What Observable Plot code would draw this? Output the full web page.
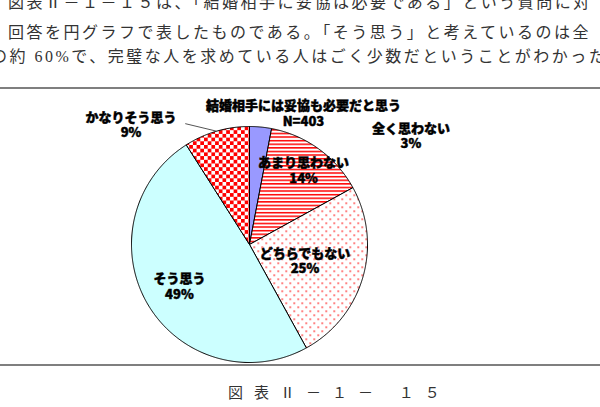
<!DOCTYPE html>
<html><head><meta charset="utf-8">
<script src="https://cdn.jsdelivr.net/npm/d3@7"></script>
<script src="https://cdn.jsdelivr.net/npm/@observablehq/plot@0.6"></script>
<style>
html,body{margin:0;padding:0;background:#fff;width:600px;height:407px;overflow:hidden;}
#page{position:relative;width:600px;height:407px;overflow:hidden;}
.para{position:absolute;white-space:pre;font-family:"Liberation Serif","Noto Sans CJK JP",serif;font-size:16px;line-height:24px;color:#333;letter-spacing:2.5px;}
#chart{position:absolute;left:0;top:87px;width:600px;border-top:2px solid #7f7f7f;border-bottom:2px solid #7f7f7f;}
#chart svg{display:block;overflow:visible;}
#caption{position:absolute;left:228px;top:383px;font-family:"Liberation Serif","Noto Sans CJK JP",serif;font-size:15px;line-height:20px;letter-spacing:11px;white-space:pre;color:#333;}
</style>
</head><body>
<div id="page">
  <div class="para" id="l1" style="left:8px;top:-9px"></div>
  <div class="para" id="l2" style="left:8px;top:21px"></div>
  <div class="para" id="l3" style="left:-9px;top:45px"></div>
  <div id="chart"></div>
  <div id="caption"></div>
</div>
<script>
// ---- data ----
const categories = ["全く思わない", "あまり思わない", "どちらでもない", "そう思う", "かなりそう思う"];
const percents = [3, 14, 25, 49, 9];
const chartTitle = "結婚相手には妥協も必要だと思う";
const sampleNote = "N=403";
const paragraphLines = [
  "図表Ⅱ－１－１５は、「結婚相手に妥協は必要である」という質問に対",
  "回答を円グラフで表したものである。「そう思う」と考えているのは全",
  "の約 60%で、完璧な人を求めている人はごく少数だということがわかった"
];
const figureCaption = "図表Ⅱ－１－ １５";

// ---- text ----
document.getElementById("l1").textContent = paragraphLines[0];
document.getElementById("l2").textContent = paragraphLines[1];
document.getElementById("l3").textContent = paragraphLines[2];
document.getElementById("caption").textContent = figureCaption;

// ---- layout / style ----
const fills = {
  "全く思わない": "#9999ff",
  "あまり思わない": "url(#stripes)",
  "どちらでもない": "url(#dots)",
  "そう思う": "#ccffff",
  "かなりそう思う": "url(#checker)"
};
const labelLayout = {
  "全く思わない": {angle: 56, r: 1.65},
  "あまり思わない": {r: 0.78},
  "どちらでもない": {r: 0.49},
  "そう思う": {r: 0.69},
  "かなりそう思う": {angle: 315.4, r: 1.43}
};
const titleLayout = {angle: 22.3, r: 1.205};
const rad = d => d * Math.PI / 180;

// ---- geometry from data ----
const total = d3.sum(percents);
let acc = 0;
const slices = categories.map((c, i) => {
  const a0 = acc / total * 2 * Math.PI;
  acc += percents[i];
  const a1 = acc / total * 2 * Math.PI;
  return {cat: c, pct: percents[i], a0, a1, mid: (a0 + a1) / 2};
});
function slicePath(s) {
  const p = [{x: 0, y: 0}];
  const n = Math.max(2, Math.ceil((s.a1 - s.a0) / (Math.PI / 360)));
  for (let k = 0; k <= n; k++) {
    const a = s.a0 + (s.a1 - s.a0) * k / n;
    p.push({x: Math.sin(a), y: Math.cos(a)});
  }
  p.push({x: 0, y: 0});
  return p;
}
const labels = slices.map(s => {
  const L = labelLayout[s.cat];
  const a = L.angle !== undefined ? rad(L.angle) : s.mid;
  return {x: L.r * Math.sin(a), y: L.r * Math.cos(a), text: `${s.cat}\n${s.pct}%`};
});
const kanari = slices[4];
const leader = [{
  x1: Math.sin(kanari.mid), y1: Math.cos(kanari.mid),
  x2: 1.16 * Math.sin(rad(332)), y2: 1.16 * Math.cos(rad(332))
}];
const titleDatum = [{
  x: titleLayout.r * Math.sin(rad(titleLayout.angle)),
  y: titleLayout.r * Math.cos(rad(titleLayout.angle)),
  text: chartTitle + "\n" + sampleNote
}];

const labelFont = "'Noto Sans CJK JP', sans-serif";
const textStyle = {fontSize: 13, fontWeight: 900, fontFamily: labelFont, lineHeight: 1.2,
  fill: "#000", stroke: "#000", strokeWidth: 0.45};
const svg = Plot.plot({
  width: 600,
  height: 275,
  marginLeft: 131,
  marginRight: 233,
  marginTop: 37,
  marginBottom: 2,
  x: {domain: [-1, 1], axis: null},
  y: {domain: [-1, 1], axis: null},
  style: {background: "transparent", overflow: "visible"},
  marks: [
    ...slices.map(s => Plot.line(slicePath(s), {
      x: "x", y: "y", fill: fills[s.cat], stroke: "#000", strokeWidth: 1, strokeLinejoin: "round"
    })),
    Plot.link(leader, {x1: "x1", y1: "y1", x2: "x2", y2: "y2", stroke: "#555", strokeWidth: 1}),
    Plot.text(labels, {x: "x", y: "y", text: "text", ...textStyle}),
    Plot.text(titleDatum, {x: "x", y: "y", text: "text", ...textStyle})
  ]
});

// patterns
const defs = d3.select(svg).insert("defs", ":first-child");
const st = defs.append("pattern").attr("id", "stripes").attr("patternUnits", "userSpaceOnUse")
  .attr("width", 8).attr("height", 3.6);
st.append("rect").attr("width", 8).attr("height", 3.6).attr("fill", "#fff");
st.append("rect").attr("width", 8).attr("height", 1.5).attr("fill", "#ff0000");
const dt = defs.append("pattern").attr("id", "dots").attr("patternUnits", "userSpaceOnUse")
  .attr("width", 8).attr("height", 8);
dt.append("rect").attr("width", 8).attr("height", 8).attr("fill", "#fff");
dt.append("rect").attr("x", 1).attr("y", 1).attr("width", 1.4).attr("height", 1.4).attr("fill", "#ff0000");
dt.append("rect").attr("x", 5).attr("y", 5).attr("width", 1.4).attr("height", 1.4).attr("fill", "#ff0000");
const ck = defs.append("pattern").attr("id", "checker").attr("patternUnits", "userSpaceOnUse")
  .attr("width", 7.4).attr("height", 7.4);
ck.append("rect").attr("width", 7.4).attr("height", 7.4).attr("fill", "#fff");
ck.append("rect").attr("width", 3.7).attr("height", 3.7).attr("fill", "#ff0000");
ck.append("rect").attr("x", 3.7).attr("y", 3.7).attr("width", 3.7).attr("height", 3.7).attr("fill", "#ff0000");

document.getElementById("chart").appendChild(svg);
</script>
</body></html>
